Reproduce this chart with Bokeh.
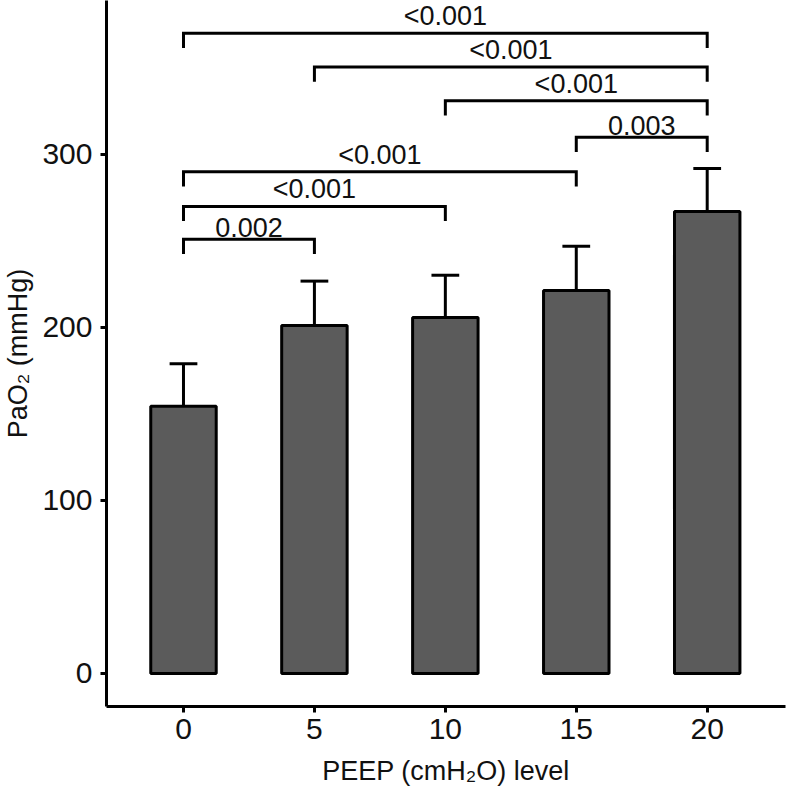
from bokeh.plotting import figure
from bokeh.models import FixedTicker, Range1d
from bokeh.embed import file_html
from bokeh.resources import INLINE
from bokeh.core.properties import value

# ---- data ----
peep = [0, 5, 10, 15, 20]
pao2_mean = [154.5, 201.2, 205.8, 221.4, 267.1]
pao2_sd = [24.5, 25.6, 24.4, 25.6, 24.8]

bracket_from = [0, 0, 0, 15, 10, 5, 0]
bracket_to = [5, 10, 15, 20, 20, 20, 20]
bracket_y = [251, 270, 290, 310, 331, 350.5, 370]
bracket_label = ["0.002", "<0.001", "<0.001", "0.003", "<0.001", "<0.001", "<0.001"]

y_ticks = [0, 100, 200, 300]

# ---- style ----
FONT = "Liberation Sans"
BAR_W = 2.5
CAP_HALF = 0.53
TIP = 8.5
LABEL_GAP = 1.2
INK = "#111111"

p = figure(width=787, height=789, output_backend="svg", toolbar_location=None,
           x_range=Range1d(-2.94, 22.99), y_range=Range1d(-19.08, 389.0),
           min_border_left=104, min_border_right=2, min_border_top=0, min_border_bottom=83)
p.outline_line_color = None
p.xgrid.visible = False
p.ygrid.visible = False
p.background_fill_color = "white"
p.border_fill_color = "white"

# bars
p.vbar(x=peep, top=pao2_mean, bottom=0, width=BAR_W, fill_color="#5b5b5b",
       line_color="black", line_width=3)

# error bars (upper only)
err_top = [m + s for m, s in zip(pao2_mean, pao2_sd)]
p.segment(x0=peep, y0=pao2_mean, x1=peep, y1=err_top, line_color="black", line_width=3)
p.segment(x0=[x - CAP_HALF for x in peep], y0=err_top,
          x1=[x + CAP_HALF for x in peep], y1=err_top, line_color="black", line_width=3)

# significance brackets
xs = [[a, a, b, b] for a, b in zip(bracket_from, bracket_to)]
ys = [[y - TIP, y, y, y - TIP] for y in bracket_y]
p.multi_line(xs=xs, ys=ys, line_color="black", line_width=3, line_join="miter")
p.text(x=[(a + b) / 2 for a, b in zip(bracket_from, bracket_to)],
       y=[y + LABEL_GAP for y in bracket_y],
       text=bracket_label, text_align="center", text_baseline="bottom",
       text_font=value(FONT), text_font_size="27px", text_color=INK)

# axes
p.xaxis.ticker = FixedTicker(ticks=peep)
p.yaxis.ticker = FixedTicker(ticks=y_ticks)
for ax in (p.xaxis[0], p.yaxis[0]):
    ax.axis_line_width = 3
    ax.axis_line_color = "black"
    ax.major_tick_line_width = 3
    ax.major_tick_line_color = "black"
    ax.major_tick_in = 0
    ax.major_tick_out = 6
    ax.minor_tick_line_color = None
    ax.major_label_text_font = FONT
    ax.major_label_text_font_size = "30px"
    ax.major_label_text_color = INK
    ax.axis_label_text_font = FONT
    ax.axis_label_text_font_size = "27px"
    ax.axis_label_text_font_style = "normal"
    ax.axis_label_text_color = INK

p.xaxis.major_label_standoff = 6
p.yaxis.major_label_standoff = 8
p.xaxis.axis_label = "PEEP (cmH\u2082O) level"
p.yaxis.axis_label = "PaO\u2082 (mmHg)"
p.xaxis.axis_label_standoff = 14
p.yaxis.axis_label_standoff = 6

open("out.html", "w").write(file_html(p, INLINE))
